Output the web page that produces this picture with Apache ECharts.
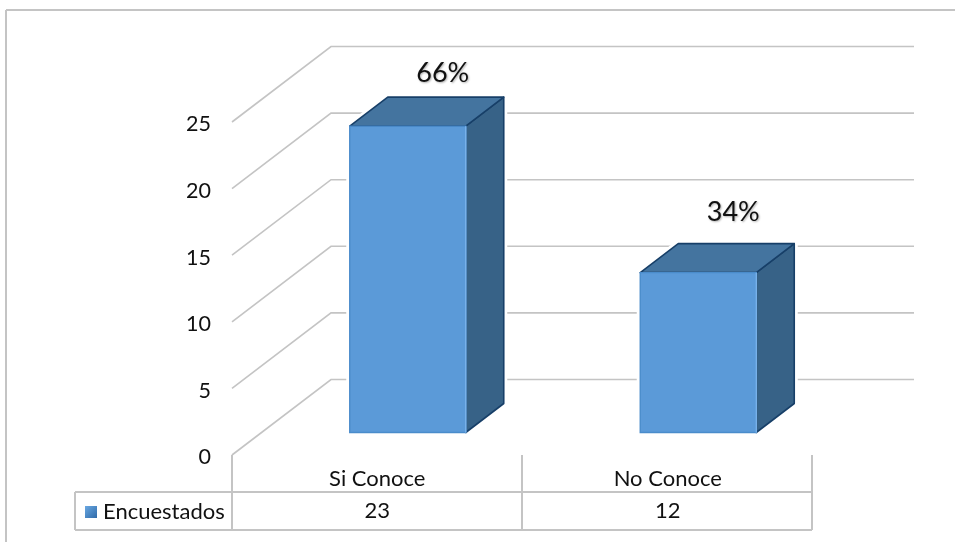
<!DOCTYPE html>
<html>
<head>
<meta charset="utf-8">
<style>html,body{margin:0;padding:0;background:#fff}#c{width:955px;height:542px}</style>
<script src="https://cdn.jsdelivr.net/npm/echarts@6/dist/echarts.min.js"></script>
</head>
<body>
<div id="c"></div>
<script>
const categories = ['Si Conoce', 'No Conoce'];
const values = [23, 12];
const percents = ['66%', '34%'];
const ticks = [0, 5, 10, 15, 20, 25];
const seriesName = 'Encuestados';

const FONT = 'Lato, "Noto Sans", sans-serif';
const LINE = '#c4c4c4';
const wall = { dx: 99, dy: -75.5, right: 914 };
const bar = { shiftX: 30.5, shiftY: -22.5, halfW: 58, dx: 38, dy: -29 };
const labelLift = [24, 31];
const labelShift = 35;
const table = { left: 75, axisX: 232, top: 455, mid: 492, bottom: 530, valueY: 511 };

const chart = echarts.init(document.getElementById('c'));

function renderWall(params, api) {
  const p = api.coord([0, api.value(0)]);
  const x0 = params.coordSys.x;
  const y = p[1];
  return {
    type: 'polyline',
    shape: { points: [[x0, y], [x0 + wall.dx, y + wall.dy], [wall.right, y + wall.dy]] },
    style: { stroke: LINE, fill: null, lineWidth: 1.6 },
    silent: true
  };
}

function renderBar(params, api) {
  const i = api.value(0);
  const top = api.coord([i, api.value(1)]);
  const base = api.coord([i, 0]);
  const cx = top[0] + bar.shiftX;
  const l = cx - bar.halfW, r = cx + bar.halfW;
  const t = top[1] + bar.shiftY, b = base[1] + bar.shiftY;
  const d = bar.dx, e = bar.dy;
  const outline = [[l, b], [l, t], [l + d, t + e], [r + d, t + e], [r + d, b + e], [r, b]];
  return {
    type: 'group',
    children: [
      { type: 'polygon', shape: { points: outline },
        style: { fill: '#fff', stroke: '#fff', lineWidth: 7 } },
      { type: 'polygon', shape: { points: [[r, t], [r + d, t + e], [r + d, b + e], [r, b]] },
        style: { fill: '#376287', stroke: '#173f68', lineWidth: 1.6, lineJoin: 'round' } },
      { type: 'polygon', shape: { points: [[l, t], [l + d, t + e], [r + d, t + e], [r, t]] },
        style: { fill: '#44749f', stroke: '#173f68', lineWidth: 1.6, lineJoin: 'round' } },
      { type: 'rect', shape: { x: l, y: t, width: r - l, height: b - t },
        style: { fill: '#5b9ad8', stroke: '#4a8ccb', lineWidth: 1.4 } },
      { type: 'line', shape: { x1: r, y1: t, x2: r, y2: b },
        style: { stroke: '#78b1ea', lineWidth: 1.5 } },
      { type: 'text', style: {
          text: percents[i], x: l + labelShift + bar.halfW, y: t + e - labelLift[i],
          align: 'center', verticalAlign: 'middle',
          font: '27px ' + FONT, fill: '#111',
          textShadowColor: 'rgba(0,0,0,0.3)', textShadowBlur: 2, textShadowOffsetX: 1, textShadowOffsetY: 1
      } },
      { type: 'text', style: {
          text: String(api.value(1)), x: top[0], y: table.valueY,
          align: 'center', verticalAlign: 'middle',
          font: '22px ' + FONT, fill: '#111'
      } }
    ]
  };
}

const tableLine = (x1, y1, x2, y2) => ({
  type: 'line', silent: true, z: 0,
  shape: { x1, y1, x2, y2 },
  style: { stroke: LINE, lineWidth: 2 }
});

chart.setOption({
  animation: false,
  backgroundColor: '#fff',
  grid: { left: 232, width: 581, top: 122, height: 333 },
  legend: {
    data: [seriesName], left: 85, top: 501, icon: 'rect',
    itemWidth: 12, itemHeight: 12, itemGap: 0, padding: 0,
    textStyle: { fontFamily: FONT, fontSize: 22, color: '#111', padding: [0, 0, 0, 1] },
    selectedMode: false
  },
  xAxis: {
    type: 'category', data: categories,
    axisLine: { show: false }, axisTick: { show: false }, splitLine: { show: false },
    axisLabel: { fontFamily: FONT, fontSize: 22, color: '#111', margin: 13 }
  },
  yAxis: {
    type: 'value', min: 0, max: 25, interval: 5,
    axisLine: { show: false }, axisTick: { show: false }, splitLine: { show: false },
    axisLabel: {
      margin: 21,
      formatter: '{t|{value}}',
      rich: { t: { fontFamily: FONT, fontSize: 21.5, color: '#111', padding: [5, 0, 0, 0] } }
    }
  },
  series: [
    { type: 'custom', name: 'wall', data: ticks.map(t => [t]), encode: { y: 0 },
      renderItem: renderWall, z: 1, silent: true, clip: false },
    { type: 'custom', name: seriesName, data: values.map((v, i) => [i, v]),
      encode: { x: 0, y: 1 }, renderItem: renderBar, z: 2, clip: false,
      itemStyle: { color: {
        type: 'linear', x: 0, y: 0, x2: 1, y2: 1,
        colorStops: [{ offset: 0, color: '#6aa8e2' }, { offset: 1, color: '#2f6aa8' }]
      } } }
  ],
  graphic: [
    tableLine(6, 10, 955, 10),
    tableLine(6, 10, 6, 542),
    tableLine(table.left, table.mid, 812, table.mid),
    tableLine(table.left, table.bottom, 812, table.bottom),
    tableLine(table.left, table.mid, table.left, table.bottom),
    tableLine(232, table.top, 232, table.bottom),
    tableLine(522, table.top, 522, table.bottom),
    tableLine(812, table.top, 812, table.bottom)
  ]
});
</script>
</body>
</html>
